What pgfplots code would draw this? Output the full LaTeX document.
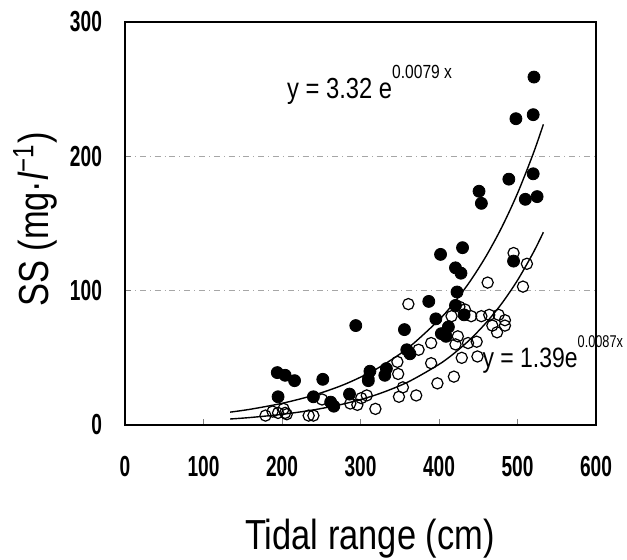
\documentclass[border=0pt]{standalone}
\usepackage{fontspec}
\setmainfont{Liberation Sans}[FakeStretch=0.82]
\newfontfamily\tickfont{Liberation Sans Bold}[FakeStretch=0.66]
\newfontfamily\supfont{Liberation Sans}[FakeStretch=0.75]
\usepackage{pgfplots}
\pgfplotsset{compat=1.18}
\begin{document}
\begin{tikzpicture}
\path[use as bounding box] (-62.5pt,-67.5pt) rectangle (251pt,212.5pt);
\begin{axis}[
  scale only axis,
  width=235.5pt, height=201.5pt,
  xmin=0, xmax=600, ymin=0, ymax=300,
  xtick={0,100,...,600}, ytick={0,100,200,300},
  tick align=inside, major tick length=3pt,
  xtick pos=bottom, ytick pos=left,
  axis line style={line width=0.8pt},
  /pgf/number format/assume math mode=true,
  tick label style={font=\tickfont\fontsize{14.5}{14.5}\selectfont},
  xticklabel shift=12pt,
  yticklabel shift=8pt,
  ymajorgrids, grid style={gray!70, dash dot, line width=0.5pt},
  xlabel={Tidal range (cm)},
  xlabel style={font=\fontsize{21}{21}\selectfont, at={(axis description cs:0.52,0)}, anchor=center, yshift=-57pt},
  ylabel={SS (mg·\textit{l}\textsuperscript{−1})},
  ylabel style={font=\fontsize{21}{21}\selectfont, at={(axis description cs:-0.191,0.51)}, anchor=center},
  clip=false,
]
% filled circles
\addplot[only marks, mark=*, mark size=3pt, black] coordinates {
(521,259)(498,228)(520,231)(489,183)(520,187)(510,168)(525,170)
(451,174)(454,165)(402,127)(430,132)(421,117)(428,113)(423,99)
(387,92)(421,89)(396,79)(432,82)(495,122)(294,74)(356,71)(403,68)
(412,73)(409,66)(363,53)(359,56)(331,37)(333,42)(312,40)(310,33)
(194,39)(204,37)(216,33)(195,21)(252,34)(240,21)(266,14)(262,17)(286,23)
};
% open circles
\addplot[only marks, mark=o, mark size=2.8pt, black, mark options={line width=0.6pt, fill=white}] coordinates {
(495,128)(512,120)(462,106)(507,103)(361,90)(426,88)(433,86)(416,81)
(441,81)(454,81)(464,82)(476,82)(484,78)(484,74)(468,74)(474,69)
(390,61)(374,56)(424,66)(421,60)(437,61)(448,62)(429,50)(449,51)
(390,46)(398,31)(419,36)(347,47)(348,38)(354,28)(349,21)(371,22)
(310,35)(308,22)(301,20)(287,16)(296,15)(319,12)(251,19)(234,7)
(240,7)(204,9)(195,9)(188,10)(179,7)(202,12)(206,8)
};
% fitted curves
\addplot[black, line width=0.7pt, smooth, mark=none] coordinates {
(134,9.57)(160,11.75)(200,16.12)(240,22.11)(280,30.32)(320,41.59)(360,57.04)
(400,78.25)(420,91.6)(440,107.3)(460,125.7)(480,147.2)(500,172.4)(520,201.9)(533,223.8)
};
\addplot[black, line width=0.7pt, smooth, mark=none] coordinates {
(134,4.46)(160,5.59)(200,7.92)(240,11.22)(280,15.88)(320,22.49)(360,31.86)
(400,45.12)(420,53.7)(440,63.9)(460,76.1)(480,90.5)(500,107.7)(520,128.2)(533,143.5)
};
\node[anchor=base west, inner sep=0pt, font=\fontsize{14.5}{14.5}\selectfont] at (axis cs:206,243) {y = 3.32 e\raisebox{1.3ex}{\fontsize{9.5}{9.5}\selectfont 0.0079 x}};
\node[anchor=base west, inner sep=0pt, font=\fontsize{14}{14}\selectfont] at (axis cs:455,43) {y = 1.39e\raisebox{1.3ex}{\supfont\fontsize{8.5}{8.5}\selectfont 0.0087x}};
\end{axis}
\end{tikzpicture}
\end{document}
